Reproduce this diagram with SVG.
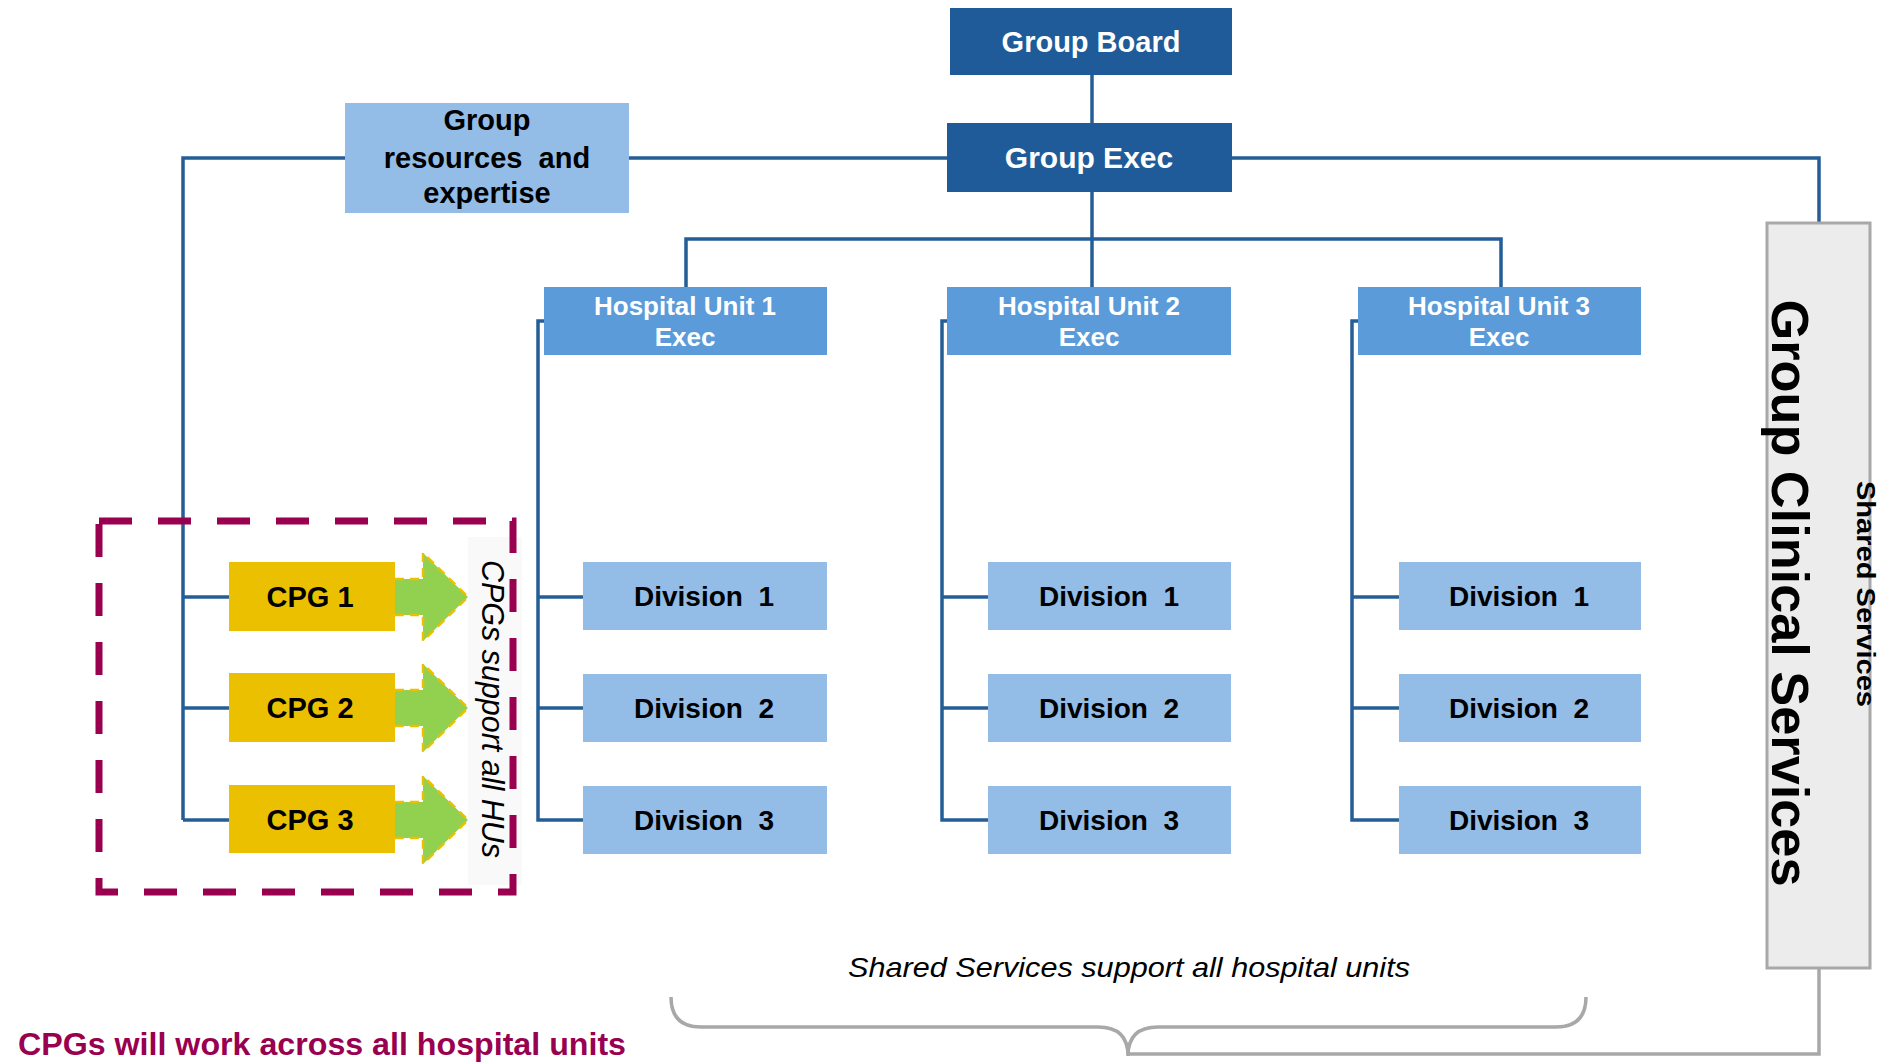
<svg xmlns="http://www.w3.org/2000/svg" width="1880" height="1062" viewBox="0 0 1880 1062">
  <style>
    .dark { fill: #1F5B98; }
    .mid { fill: #5B9BD9; }
    .light { fill: #93BCE6; }
    .cpg { fill: #EBC000; }
    .wire { fill: none; stroke: #255E96; stroke-width: 3.5; }
    .grey { fill: none; stroke: #A8A8A8; stroke-width: 3.5; }
    .tw { font-family: "Liberation Sans", Arial, sans-serif; font-weight: bold; fill: #ffffff; text-anchor: middle; }
    .tb { font-family: "Liberation Sans", Arial, sans-serif; font-weight: bold; fill: #000000; text-anchor: middle; }
    .arrow { fill: #92D050; stroke: #EBC000; stroke-width: 2.5; stroke-dasharray: 9 6; }
  </style>

  <!-- connectors -->
  <g id="connectors">
    <line class="wire" x1="1092" y1="75" x2="1092" y2="123"/>
    <polyline class="wire" points="183,820 183,158 1819,158 1819,223"/>
    <line class="wire" x1="183" y1="597" x2="229" y2="597"/>
    <line class="wire" x1="183" y1="708" x2="229" y2="708"/>
    <line class="wire" x1="183" y1="820" x2="229" y2="820"/>
    <line class="wire" x1="1092" y1="192" x2="1092" y2="287"/>
    <polyline class="wire" points="686,287 686,239 1501,239 1501,287"/>
    <!-- hospital unit 1 -->
    <polyline class="wire" points="544,321 538,321 538,820 583,820"/>
    <line class="wire" x1="538" y1="597" x2="583" y2="597"/>
    <line class="wire" x1="538" y1="708" x2="583" y2="708"/>
    <!-- hospital unit 2 -->
    <polyline class="wire" points="947,321 942,321 942,820 988,820"/>
    <line class="wire" x1="942" y1="597" x2="988" y2="597"/>
    <line class="wire" x1="942" y1="708" x2="988" y2="708"/>
    <!-- hospital unit 3 -->
    <polyline class="wire" points="1358,321 1352,321 1352,820 1399,820"/>
    <line class="wire" x1="1352" y1="597" x2="1399" y2="597"/>
    <line class="wire" x1="1352" y1="708" x2="1399" y2="708"/>
    <!-- shared services link and brace -->
    <polyline class="grey" points="1819,968 1819,1054 1128,1054"/>
    <path class="grey" d="M671,997 Q671,1027 701,1027 L1098,1027 Q1128,1027 1128,1056 Q1128,1027 1158,1027 L1556,1027 Q1586,1027 1586,997"/>
  </g>

  <!-- top level -->
  <g id="group-board">
    <rect class="dark" x="950" y="8" width="282" height="67"/>
    <text class="tw" x="1091" y="52" font-size="29">Group Board</text>
  </g>
  <g id="group-exec">
    <rect class="dark" x="947" y="123" width="285" height="69"/>
    <text class="tw" x="1089" y="168" font-size="30">Group Exec</text>
  </g>
  <g id="group-resources">
    <rect class="light" x="345" y="103" width="284" height="110"/>
    <text class="tb" x="487" y="130" font-size="29">Group</text>
    <text class="tb" x="487" y="168" font-size="29" xml:space="preserve">resources  and</text>
    <text class="tb" x="487" y="203" font-size="29">expertise</text>
  </g>

  <!-- hospital unit execs -->
  <g id="hu1-exec">
    <rect class="mid" x="544" y="287" width="283" height="68"/>
    <text class="tw" x="685" y="315" font-size="26">Hospital Unit 1</text>
    <text class="tw" x="685" y="346" font-size="26">Exec</text>
  </g>
  <g id="hu2-exec">
    <rect class="mid" x="947" y="287" width="284" height="68"/>
    <text class="tw" x="1089" y="315" font-size="26">Hospital Unit 2</text>
    <text class="tw" x="1089" y="346" font-size="26">Exec</text>
  </g>
  <g id="hu3-exec">
    <rect class="mid" x="1358" y="287" width="283" height="68"/>
    <text class="tw" x="1499" y="315" font-size="26">Hospital Unit 3</text>
    <text class="tw" x="1499" y="346" font-size="26">Exec</text>
  </g>

  <!-- divisions -->
  <g id="hu1-div1"><rect class="light" x="583" y="562" width="244" height="68"/><text class="tb" x="704" y="606" font-size="28" xml:space="preserve">Division  1</text></g>
  <g id="hu1-div2"><rect class="light" x="583" y="674" width="244" height="68"/><text class="tb" x="704" y="718" font-size="28" xml:space="preserve">Division  2</text></g>
  <g id="hu1-div3"><rect class="light" x="583" y="786" width="244" height="68"/><text class="tb" x="704" y="830" font-size="28" xml:space="preserve">Division  3</text></g>
  <g id="hu2-div1"><rect class="light" x="988" y="562" width="243" height="68"/><text class="tb" x="1109" y="606" font-size="28" xml:space="preserve">Division  1</text></g>
  <g id="hu2-div2"><rect class="light" x="988" y="674" width="243" height="68"/><text class="tb" x="1109" y="718" font-size="28" xml:space="preserve">Division  2</text></g>
  <g id="hu2-div3"><rect class="light" x="988" y="786" width="243" height="68"/><text class="tb" x="1109" y="830" font-size="28" xml:space="preserve">Division  3</text></g>
  <g id="hu3-div1"><rect class="light" x="1399" y="562" width="242" height="68"/><text class="tb" x="1519" y="606" font-size="28" xml:space="preserve">Division  1</text></g>
  <g id="hu3-div2"><rect class="light" x="1399" y="674" width="242" height="68"/><text class="tb" x="1519" y="718" font-size="28" xml:space="preserve">Division  2</text></g>
  <g id="hu3-div3"><rect class="light" x="1399" y="786" width="242" height="68"/><text class="tb" x="1519" y="830" font-size="28" xml:space="preserve">Division  3</text></g>

  <!-- clinical programme groups -->
  <g id="cpg-panel">
    <rect x="468" y="537" width="54" height="348" fill="#F9F9F9"/>
    <text transform="translate(482,709) rotate(90)" font-family="'Liberation Sans', Arial, sans-serif" font-style="italic" font-size="31" text-anchor="middle" fill="#000" textLength="298" lengthAdjust="spacingAndGlyphs">CPGs support all HUs</text>
    <rect x="99" y="521" width="414" height="371" fill="none" stroke="#990050" stroke-width="7" stroke-dasharray="33 26"/>
  </g>
  <g id="cpg1">
    <rect class="cpg" x="229" y="562" width="166" height="69"/>
    <path class="arrow" d="M395,579 L423,579 L423,553 L468,597 L423,641 L423,615 L395,615"/>
    <text class="tb" x="310" y="607" font-size="29">CPG 1</text>
  </g>
  <g id="cpg2">
    <rect class="cpg" x="229" y="673" width="166" height="69"/>
    <path class="arrow" d="M395,690 L423,690 L423,664 L468,708 L423,752 L423,726 L395,726"/>
    <text class="tb" x="310" y="718" font-size="29">CPG 2</text>
  </g>
  <g id="cpg3">
    <rect class="cpg" x="229" y="785" width="166" height="68"/>
    <path class="arrow" d="M395,802 L423,802 L423,776 L468,820 L423,864 L423,838 L395,838"/>
    <text class="tb" x="310" y="830" font-size="29">CPG 3</text>
  </g>

  <!-- shared clinical services column -->
  <g id="group-clinical-services">
    <rect x="1767" y="223" width="103" height="745" fill="#ECECEC" stroke="#A8A8A8" stroke-width="3"/>
    <text transform="translate(1772,593) rotate(90)" class="tb" font-size="52" textLength="587" lengthAdjust="spacingAndGlyphs">Group Clinical Services</text>
    <text transform="translate(1857,594) rotate(90)" class="tb" font-size="26" textLength="226" lengthAdjust="spacingAndGlyphs">Shared Services</text>
  </g>

  <!-- notes -->
  <text x="1129" y="977" font-family="'Liberation Sans', Arial, sans-serif" font-style="italic" font-size="28" text-anchor="middle" fill="#000" textLength="562" lengthAdjust="spacingAndGlyphs">Shared Services support all hospital units</text>
  <text x="18" y="1055" font-family="'Liberation Sans', Arial, sans-serif" font-weight="bold" font-size="31" fill="#990050" textLength="608" lengthAdjust="spacingAndGlyphs">CPGs will work across all hospital units</text>
</svg>
